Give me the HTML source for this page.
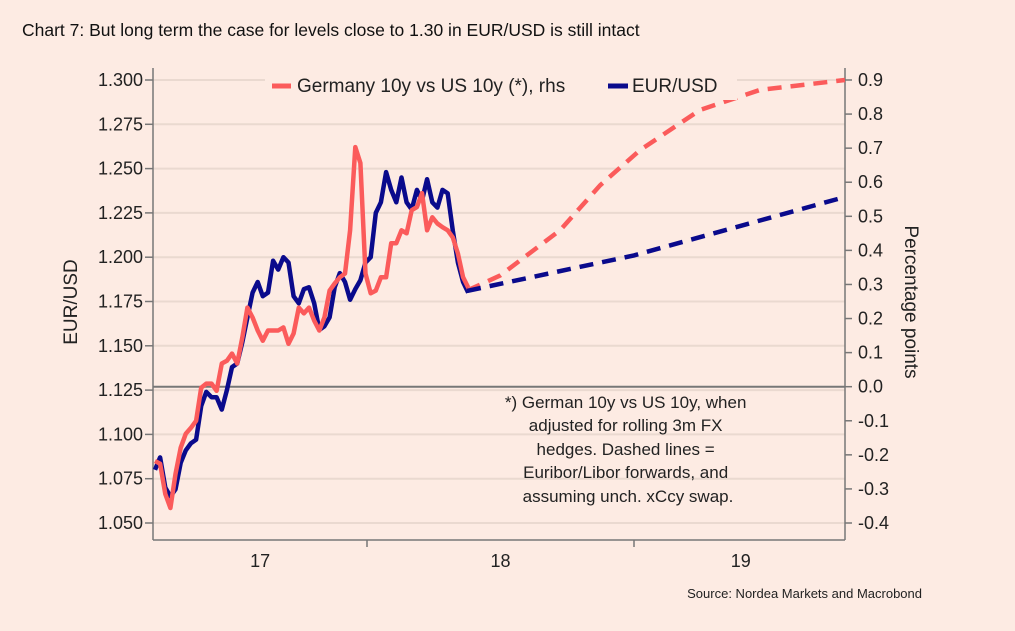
<!DOCTYPE html>
<html><head><meta charset="utf-8"><style>
html,body{margin:0;padding:0;background:#fdebe3;}
body{width:1015px;height:626px;overflow:hidden;font-family:"Liberation Sans",sans-serif;}
svg text{font-family:"Liberation Sans",sans-serif;}
</style></head><body>
<svg id="chart" width="1015" height="626" xmlns="http://www.w3.org/2000/svg">
<rect width="1015" height="626" fill="#fdebe3"/>
<text x="22" y="36" font-size="17.5" fill="#111">Chart 7: But long term the case for levels close to 1.30 in EUR/USD is still intact</text>
<g id="grid"></g>
<g id="axes"></g>
<g id="series"></g>
<g>
<rect x="265" y="70" width="472" height="30" fill="#fdebe3"/>
<line x1="272" y1="86" x2="291" y2="86" stroke="#fb5b5b" stroke-width="5"/>
<text x="297" y="92" font-size="19" fill="#222">Germany 10y vs US 10y (*), rhs</text>
<line x1="608" y1="86" x2="628" y2="86" stroke="#0a0a8c" stroke-width="5"/>
<text x="632" y="92" font-size="19" fill="#222">EUR/USD</text>
</g>
<text font-size="17" fill="#222" text-anchor="middle">
<tspan x="628" y="408">*) German 10y vs US 10y, when</tspan>
<tspan x="628" y="431">adjusted for rolling 3m FX</tspan>
<tspan x="628" y="455">hedges. Dashed lines =</tspan>
<tspan x="628" y="478">Euribor/Libor forwards, and</tspan>
<tspan x="628" y="502">assuming unch. xCcy swap.</tspan>
</text>
<text transform="translate(77,302) rotate(-90)" text-anchor="middle" font-size="19" fill="#222">EUR/USD</text>
<text transform="translate(905,302) rotate(90)" text-anchor="middle" font-size="19" fill="#222">Percentage points</text>
<text x="922" y="598" text-anchor="end" font-size="13" fill="#222">Source: Nordea Markets and Macrobond</text>
</svg>
<script>
const leftTicks=[1.050,1.075,1.100,1.125,1.150,1.175,1.200,1.225,1.250,1.275,1.300];
const rightTicks=[-0.4,-0.3,-0.2,-0.1,0.0,0.1,0.2,0.3,0.4,0.5,0.6,0.7,0.8,0.9];
const xLabels=["17","18","19"];
const xLabelPos=[2017.6,2018.5,2019.4];
const yearTicks=[2018,2019];
const startDate=2017.206;
const eurusd=[1.080,1.087,1.070,1.065,1.069,1.084,1.091,1.095,1.097,1.116,1.124,1.121,1.121,1.114,1.125,1.138,1.140,1.152,1.166,1.180,1.186,1.178,1.180,1.198,1.193,1.200,1.197,1.178,1.174,1.182,1.183,1.174,1.159,1.161,1.166,1.183,1.191,1.186,1.176,1.182,1.187,1.197,1.200,1.225,1.231,1.248,1.238,1.231,1.245,1.231,1.227,1.238,1.232,1.244,1.231,1.228,1.238,1.236,1.215,1.197,1.186,1.180];
const spread=[-0.218,-0.226,-0.315,-0.356,-0.256,-0.179,-0.138,-0.121,-0.100,-0.003,0.009,0.009,-0.012,0.068,0.076,0.097,0.068,0.144,0.232,0.203,0.165,0.135,0.165,0.165,0.165,0.174,0.126,0.156,0.232,0.215,0.232,0.194,0.165,0.203,0.282,0.303,0.321,0.332,0.459,0.703,0.656,0.332,0.274,0.282,0.321,0.321,0.421,0.421,0.459,0.450,0.518,0.527,0.568,0.459,0.497,0.479,0.468,0.459,0.438,0.391,0.321,0.291];
const eurFcDates=[2018.375,2019.0,2019.79];
const eurFc=[1.181,1.201,1.234];
const sprFcDates=[2018.375,2018.498,2018.723,2018.873,2019.022,2019.247,2019.472,2019.79];
const sprFc=[0.282,0.326,0.459,0.591,0.694,0.812,0.871,0.900];

const NS="http://www.w3.org/2000/svg";
const X0=153,X1=845,YT=80,YB=523;
function xs(t){return 367+(t-2018)*267;}
function yl(v){return YB-(v-1.05)/(0.25)*(YB-YT);}
function yr(v){return YB-(v+0.4)/(1.3)*(YB-YT);}
function mk(tag,attrs,parent){const e=document.createElementNS(NS,tag);for(const k in attrs)e.setAttribute(k,attrs[k]);parent.appendChild(e);return e;}
const grid=document.getElementById('grid'),axes=document.getElementById('axes'),ser=document.getElementById('series');
leftTicks.forEach(v=>{
  const y=yl(v);
  const g=mk('line',{x1:X0,x2:X1,y1:y,y2:y,stroke:'#ead9d0','stroke-width':2},grid);
  
  
  mk('line',{x1:X0-8,x2:X0,y1:y,y2:y,stroke:'#777','stroke-width':1.5},axes);
  const t=mk('text',{x:X0-10,y:y+6,'text-anchor':'end','font-size':18,fill:'#222'},axes);
  t.textContent=v.toFixed(3);
  
  
});
rightTicks.forEach(v=>{
  const y=yr(v);
  mk('line',{x1:X1,x2:X1+7,y1:y,y2:y,stroke:'#777','stroke-width':1.5},axes);
  const t=mk('text',{x:X1+13,y:y+6,'font-size':18,fill:'#222'},axes);
  t.textContent=v.toFixed(1);
  
  
});
const zl=mk('line',{x1:X0,x2:X1,y1:yr(0),y2:yr(0),stroke:'#777','stroke-width':2},axes);


mk('line',{x1:X0,x2:X0,y1:68,y2:540,stroke:'#777','stroke-width':1.5},axes);
mk('line',{x1:X1,x2:X1,y1:68,y2:540,stroke:'#777','stroke-width':1.5},axes);
const xa=mk('line',{x1:X0,x2:X1,y1:540,y2:540,stroke:'#777','stroke-width':1.5},axes);


yearTicks.forEach(t=>{mk('line',{x1:xs(t),x2:xs(t),y1:540,y2:547,stroke:'#777','stroke-width':1.5},axes);});
xLabels.forEach((l,i)=>{
  const t=mk('text',{x:xs(xLabelPos[i]),y:567,'text-anchor':'middle','font-size':18,fill:'#222'},axes);
  t.textContent=l;
  
  
});
function pts(dates,vals,f){return vals.map((v,i)=>xs(dates[i]).toFixed(1)+','+f(v).toFixed(1)).join(' ');}
const dts=eurusd.map((_,i)=>startDate+i/52);
const p1=mk('polyline',{points:pts(dts,spread,yr),fill:'none',stroke:'#fb5b5b','stroke-width':4.5,'stroke-linejoin':'round'},ser);


const p2=mk('polyline',{points:pts(dts,eurusd,yl),fill:'none',stroke:'#0a0a8c','stroke-width':4.5,'stroke-linejoin':'round'},ser);


ser.appendChild(p1);
const p3=mk('polyline',{points:pts(sprFcDates,sprFc,yr),fill:'none',stroke:'#fb5b5b','stroke-width':4.5,'stroke-dasharray':'14,9'},ser);


const p4=mk('polyline',{points:pts(eurFcDates,eurFc,yl),fill:'none',stroke:'#0a0a8c','stroke-width':4.5,'stroke-dasharray':'14,9'},ser);


</script>
</body></html>
